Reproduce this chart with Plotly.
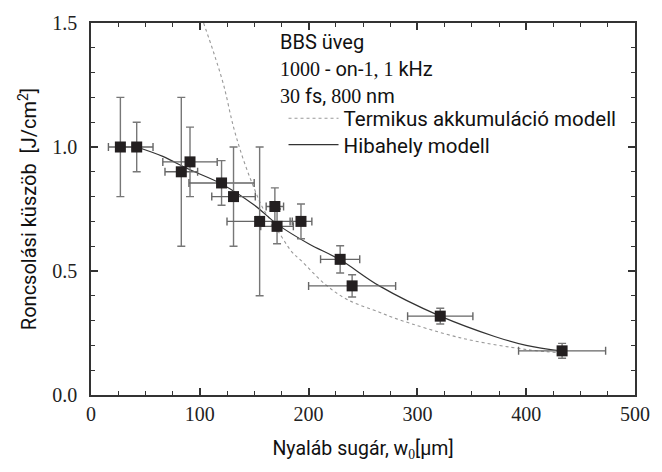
import plotly.graph_objects as go

# Measured data (beam radius w0 in µm, damage threshold in J/cm^2)
w0 = [27, 42, 83, 91, 120, 131, 155, 169, 171, 193, 229, 240, 321, 433]
w0_err = [11, 15, 15, 25, 30, 20, 30, 8, 15, 10, 18, 40, 30, 40]
fth = [1.0, 1.0, 0.9, 0.94, 0.855, 0.8, 0.7, 0.76, 0.68, 0.7, 0.547, 0.44, 0.318, 0.178]
fth_err = [0.2, 0.1, 0.3, 0.14, 0.09, 0.2, 0.3, 0.075, 0.07, 0.07, 0.055, 0.045, 0.032, 0.03]

# Model curves
defect_x = [42, 66, 90, 120, 150, 172, 200, 229, 265, 320, 371, 400, 433]
defect_y = [1.0, 0.962, 0.91, 0.851, 0.766, 0.686, 0.61, 0.545, 0.44, 0.32, 0.236, 0.2, 0.177]

thermal_x = [103.5, 112.8, 121.9, 131, 140, 149, 158, 170, 185, 193, 214, 235, 265, 281, 341, 401, 432]
thermal_y = [1.5, 1.38, 1.25, 1.08, 0.95, 0.844, 0.753, 0.674, 0.575, 0.543, 0.451, 0.386, 0.334, 0.307, 0.229, 0.183, 0.17]

x_ticks = [0, 100, 200, 300, 400, 500]
y_ticks = [0.0, 0.5, 1.0, 1.5]

SANS = "Roboto"
SERIF = "Liberation Serif"
AX = "#333333"


def sp(txt, fam):
    return f"<span style=\"font-family:{fam}\">{txt}</span>"


fig = go.Figure()

fig.add_trace(go.Scatter(
    x=thermal_x, y=thermal_y, mode="lines", line_shape="spline",
    line=dict(color="#999999", width=1.1, dash="dot"),
    name="Termikus akkumuláció modell", hoverinfo="skip", legend="legend"))

fig.add_trace(go.Scatter(
    x=defect_x, y=defect_y, mode="lines", line_shape="spline",
    line=dict(color="#333333", width=1.2),
    name="Hibahely modell", hoverinfo="skip", legend="legend2"))

fig.add_trace(go.Scatter(
    x=w0, y=fth, mode="markers", showlegend=False,
    marker=dict(symbol="square", size=11, color="#231f20"),
    error_x=dict(type="data", array=w0_err, color="#666666", thickness=1.4, width=4),
    error_y=dict(type="data", array=fth_err, color="#777777", thickness=1.4, width=4)))

axis_common = dict(
    showline=True, linecolor=AX, linewidth=1.5, mirror="allticks",
    ticks="inside", ticklen=7, tickwidth=1.5, tickcolor=AX,
    showgrid=False, zeroline=False,
    tickfont=dict(family=SERIF, size=20, color="#222222"),
)

fig.update_xaxes(
    range=[0, 500], tickvals=x_ticks, ticktext=[sp(str(v), SERIF) for v in x_ticks],
    minor=dict(dtick=25, ticks="inside", ticklen=4, tickwidth=1.2, tickcolor=AX, showgrid=False),
    title=dict(text="Nyaláb sugár, w<sub>" + sp("0", SERIF) + "</sub>[µm]",
               font=dict(family=SANS, size=19.5, color="#111111"), standoff=18),
    **axis_common)

fig.update_yaxes(
    range=[0, 1.5], tickvals=y_ticks, ticktext=[sp(f"{v:.1f}", SERIF) for v in y_ticks],
    minor=dict(dtick=0.1, ticks="inside", ticklen=4, tickwidth=1.2, tickcolor=AX, showgrid=False),
    ticklabelstandoff=8,
    title=dict(text="Roncsolási küszöb  [J/cm<sup>2</sup>]",
               font=dict(family=SANS, size=20, color="#111111"), standoff=10),
    **axis_common)

lines = [
    (33, "BBS üveg"),
    (60, sp("1000", SERIF) + " - on-" + sp("1, 1", SERIF) + " kHz"),
    (88, sp("30", SERIF) + " fs, " + sp("800", SERIF) + " nm"),
]
for ypx, txt in lines:
    fig.add_annotation(
        xref="paper", yref="paper", x=(280 - 91) / 551, y=(395 - ypx) / 382,
        text=txt, showarrow=False, xanchor="left", yanchor="middle",
        font=dict(family=SANS, size=20, color="#111111"))

leg_common = dict(
    xanchor="left", yanchor="middle", itemwidth=50,
    bgcolor="rgba(0,0,0,0)", borderwidth=0,
    font=dict(family=SANS, size=20.5, color="#111111"),
)

fig.update_layout(
    width=662, height=472,
    margin=dict(l=91, r=20, t=13, b=77),
    paper_bgcolor="white", plot_bgcolor="white",
    legend=dict(x=(286 - 91) / 551, y=(395 - 111) / 382, **leg_common),
    legend2=dict(x=(286 - 91) / 551, y=(395 - 138) / 382, **leg_common),
)

fig.write_html("out.html")
